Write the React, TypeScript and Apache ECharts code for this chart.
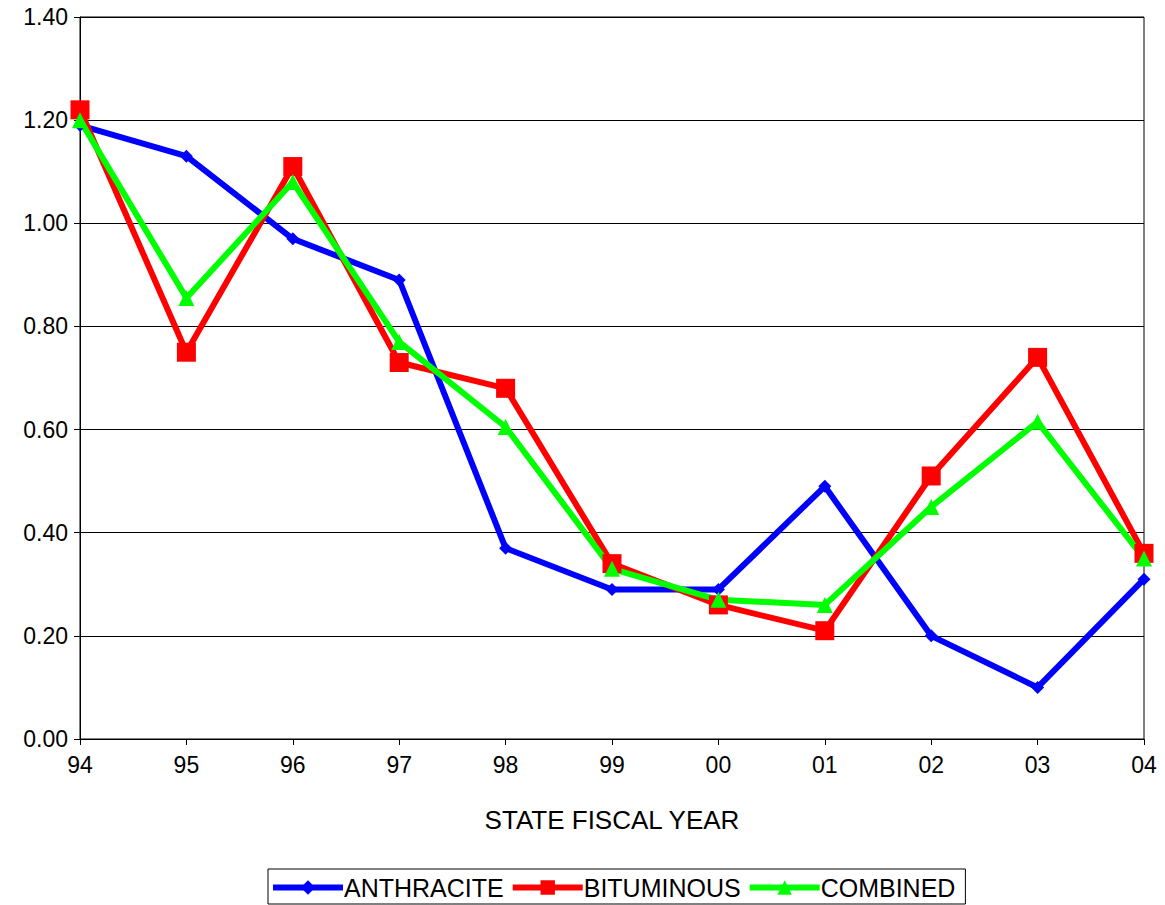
import { useEffect, useRef } from 'react'
import * as echarts from 'echarts'

const YEARS = ['94', '95', '96', '97', '98', '99', '00', '01', '02', '03', '04']
const ANTHRACITE = [1.19, 1.13, 0.97, 0.89, 0.37, 0.29, 0.29, 0.49, 0.2, 0.1, 0.31]
const BITUMINOUS = [1.22, 0.75, 1.11, 0.73, 0.68, 0.34, 0.26, 0.21, 0.51, 0.74, 0.36]
const COMBINED = [1.2, 0.855, 1.08, 0.77, 0.605, 0.33, 0.27, 0.26, 0.45, 0.615, 0.35]

const FONT = 'Liberation Sans, Arial, sans-serif'

export default function App() {
  const chartRef = useRef<HTMLDivElement>(null)

  useEffect(() => {
    if (!chartRef.current) return
    const chart = echarts.init(chartRef.current, undefined, { renderer: 'svg' })

    const mk = (name: string, data: number[], color: string, symbol: string, size: number) => ({
      name,
      type: 'line' as const,
      data,
      symbol,
      symbolSize: size,
      lineStyle: { color, width: 6 },
      itemStyle: { color },
    })

    chart.setOption({
      animation: false,
      backgroundColor: '#fff',
      grid: {
        left: 80, right: 21, top: 17, bottom: 166,
        show: true, borderColor: '#000', borderWidth: 1,
      },
      legend: {
        bottom: 1,
        left: 268,
        itemWidth: 70,
        itemHeight: 18,
        itemGap: 6,
        borderColor: '#000',
        borderWidth: 1,
        padding: [6, 10, 4, 2],
        lineStyle: { width: 6 },
        textStyle: { color: '#000', fontSize: 25, fontFamily: FONT, padding: [0, 0, 0, -4] },
      },
      xAxis: {
        type: 'category',
        data: YEARS,
        boundaryGap: false,
        name: 'STATE FISCAL YEAR',
        nameLocation: 'middle',
        nameGap: 68,
        nameTextStyle: { color: '#000', fontSize: 26, fontFamily: FONT },
        axisLine: { lineStyle: { color: '#000' } },
        axisTick: { show: true, length: 6, lineStyle: { color: '#000' } },
        axisLabel: { color: '#000', fontSize: 23, fontFamily: FONT, margin: 14 },
      },
      yAxis: {
        type: 'value',
        min: 0,
        max: 1.4,
        interval: 0.2,
        axisLine: { show: true, lineStyle: { color: '#000' } },
        axisTick: { show: true, length: 6, lineStyle: { color: '#000' } },
        splitLine: { lineStyle: { color: '#000', width: 1 } },
        axisLabel: {
          color: '#000', fontSize: 23, fontFamily: FONT, margin: 12,
          formatter: (v: number) => v.toFixed(2),
        },
      },
      series: [
        mk('ANTHRACITE', ANTHRACITE, '#0000ff', 'diamond', 13),
        mk('BITUMINOUS', BITUMINOUS, '#ff0000', 'rect', 19),
        mk('COMBINED', COMBINED, '#00ff00', 'triangle', 16),
      ],
    })
    return () => chart.dispose()
  }, [])

  return (
    <div
      ref={chartRef}
      style={{ position: 'fixed', left: 0, top: 0, width: 1165, height: 905 }}
    />
  )
}
